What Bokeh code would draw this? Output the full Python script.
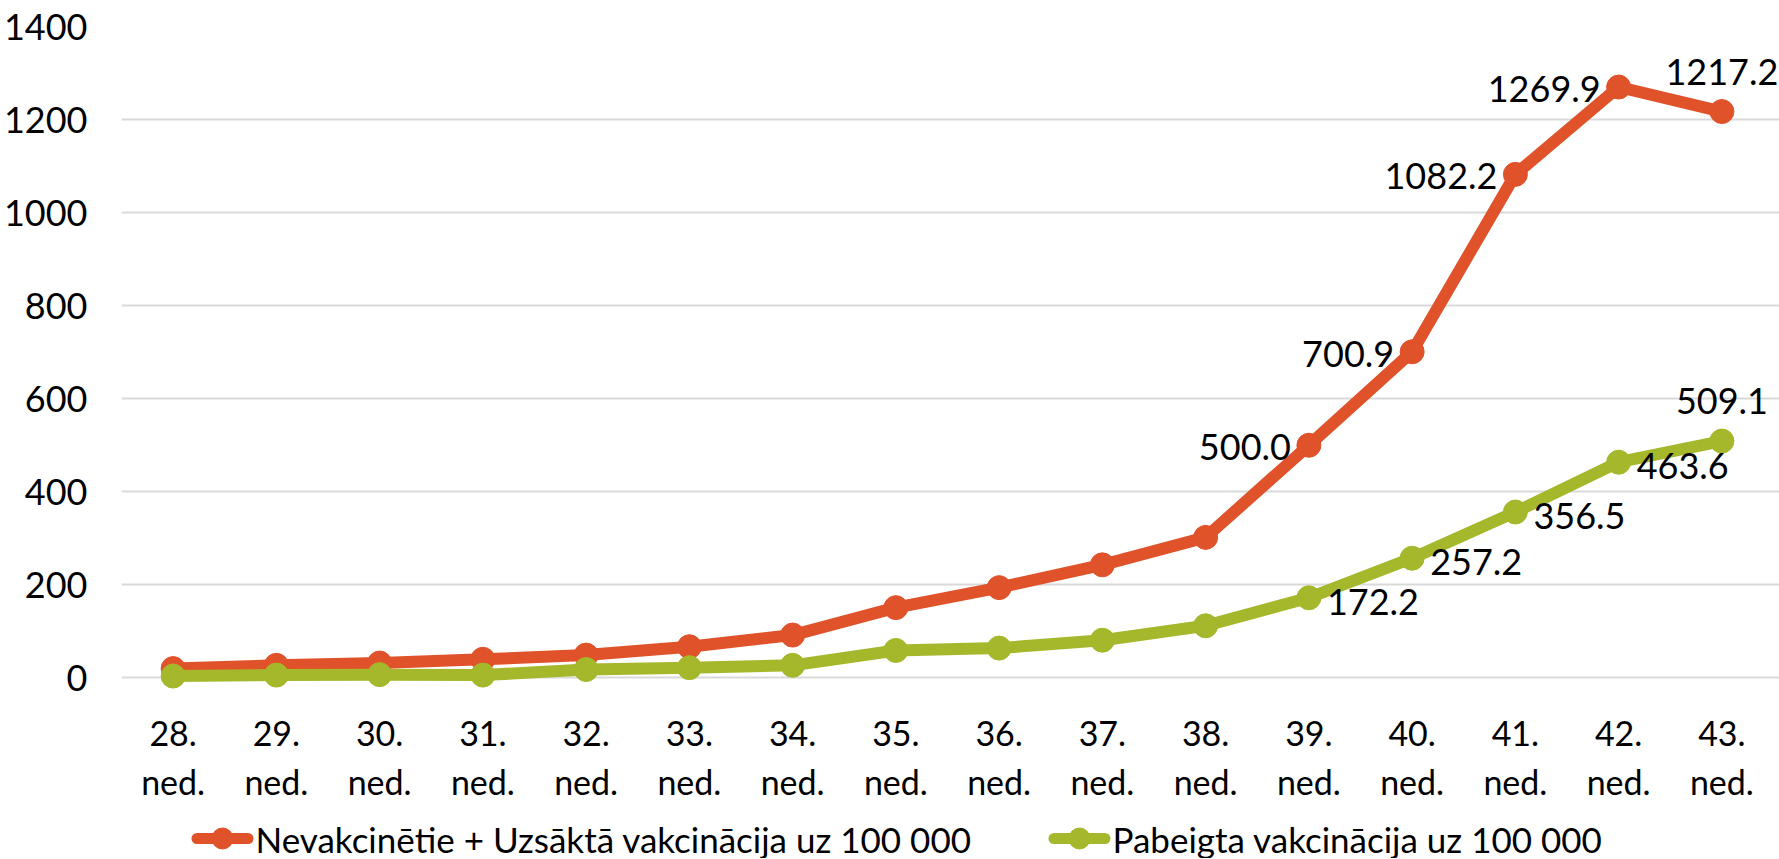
from bokeh.plotting import figure
from bokeh.layouts import column
from bokeh.models import Range1d, FixedTicker, ColumnDataSource
from bokeh.embed import file_html
from bokeh.resources import INLINE
from bokeh.core.properties import value

# ---- data ----
weeks = ["28.", "29.", "30.", "31.", "32.", "33.", "34.", "35.",
         "36.", "37.", "38.", "39.", "40.", "41.", "42.", "43."]
week_suffix = "ned."
unvacc = [20, 27, 32, 40, 49, 67, 92, 151, 194, 243, 302,
          500.0, 700.9, 1082.2, 1269.9, 1217.2]
vacc = [4, 6, 7, 6, 18, 22, 27, 59, 64, 81, 112,
        172.2, 257.2, 356.5, 463.6, 509.1]
series_names = ["Nevakcinētie +  Uzsāktā vakcinācija uz 100 000",
                "Pabeigta vakcinācija uz 100 000"]
y_ticks = [0, 200, 400, 600, 800, 1000, 1200, 1400]
labelled_from = 11  # data labels shown from week 39 on

RED = "#E0522A"
GREEN = "#A5B82B"
FONT = "Lato"

W = 1779
LEFT = 121
H_MAIN = 813
H_LEG = 45

idx = list(range(len(weeks)))
tick_text = {i: f"{w}\n{week_suffix}" for i, w in zip(idx, weeks)}

p = figure(width=W, height=H_MAIN,
           x_range=Range1d(-0.5, len(weeks) - 0.5 + 0.058),
           y_range=Range1d(-40, 1400),
           output_backend="svg", toolbar_location=None,
           min_border_left=LEFT, min_border_right=0,
           min_border_top=26, min_border_bottom=117)
p.outline_line_color = None
p.background_fill_color = "white"

# axes
p.xaxis.ticker = FixedTicker(ticks=idx)
p.xaxis.major_label_overrides = tick_text
p.xaxis.axis_line_color = None
p.xaxis.major_tick_line_color = None
p.xaxis.minor_tick_line_color = None
p.xaxis.major_tick_out = 0
p.xaxis.major_label_standoff = 15
p.xaxis.major_label_text_font = FONT
p.xaxis.major_label_text_font_size = "34px"
p.xaxis.major_label_text_color = "black"

p.yaxis.ticker = FixedTicker(ticks=y_ticks)
p.yaxis.axis_line_color = None
p.yaxis.major_tick_line_color = None
p.yaxis.minor_tick_line_color = None
p.yaxis.major_tick_out = 0
p.yaxis.major_label_standoff = 34
p.yaxis.major_label_text_font = FONT
p.yaxis.major_label_text_font_size = "36px"
p.yaxis.major_label_text_color = "black"

p.xgrid.grid_line_color = None
p.ygrid.grid_line_color = "#D9D9D9"
p.ygrid.grid_line_width = 2

src = ColumnDataSource(dict(x=idx, r=unvacc, g=vacc))
p.line("x", "r", source=src, line_color=RED, line_width=12,
       line_join="round", line_cap="round")
p.scatter("x", "r", source=src, size=24, fill_color=RED, line_color=RED)
p.line("x", "g", source=src, line_color=GREEN, line_width=12,
       line_join="round", line_cap="round")
p.scatter("x", "g", source=src, size=24, fill_color=GREEN, line_color=GREEN)

def fmt(v):
    return f"{v:.1f}"

last = len(idx) - 1
left = ColumnDataSource(dict(x=idx[labelled_from:last], y=unvacc[labelled_from:last],
                             t=[fmt(v) for v in unvacc[labelled_from:last]]))
right = ColumnDataSource(dict(x=idx[labelled_from:last], y=vacc[labelled_from:last],
                              t=[fmt(v) for v in vacc[labelled_from:last]]))
above = ColumnDataSource(dict(x=[idx[last], idx[last]], y=[unvacc[last], vacc[last]],
                              t=[fmt(unvacc[last]), fmt(vacc[last])]))

common = dict(text_font=value(FONT), text_font_size="36px", text_color="black",
              text_baseline="middle")
p.text("x", "y", text="t", source=left, text_align="right",
       x_offset=-18, y_offset=2, **common)
p.text("x", "y", text="t", source=right, text_align="left",
       x_offset=18, y_offset=4, **common)
p.text("x", "y", text="t", source=above, text_align="center",
       x_offset=0, y_offset=-40, **common)

# ---- legend strip (its own small figure, 1 data unit = 1 page px) ----
leg = figure(width=W, height=H_LEG, x_range=Range1d(LEFT, W), y_range=Range1d(0, H_LEG),
             output_backend="svg", toolbar_location=None,
             min_border_left=LEFT, min_border_right=0, min_border_top=0, min_border_bottom=0)
leg.axis.visible = False
leg.grid.visible = False
leg.outline_line_color = None

leg_mid = 20          # vertical centre of legend row, px from strip bottom
key_len = 62          # length of legend key
key_lw = 11
key_marker = 21
item_starts = [191, 1048]
colors = [RED, GREEN]
for x0, c, name in zip(item_starts, colors, series_names):
    leg.line([x0 + key_lw / 2, x0 + key_len - key_lw / 2], [leg_mid, leg_mid],
             line_color=c, line_width=key_lw, line_cap="round")
    leg.scatter([x0 + key_len / 2], [leg_mid], size=key_marker,
                fill_color=c, line_color=c)
    leg.text([x0 + key_len + 2], [leg_mid], text=[name], text_font=value(FONT),
             text_font_size="35px", text_color="black",
             text_align="left", text_baseline="middle")

layout = column(p, leg, spacing=0)
open("out.html", "w").write(file_html(layout, INLINE))
